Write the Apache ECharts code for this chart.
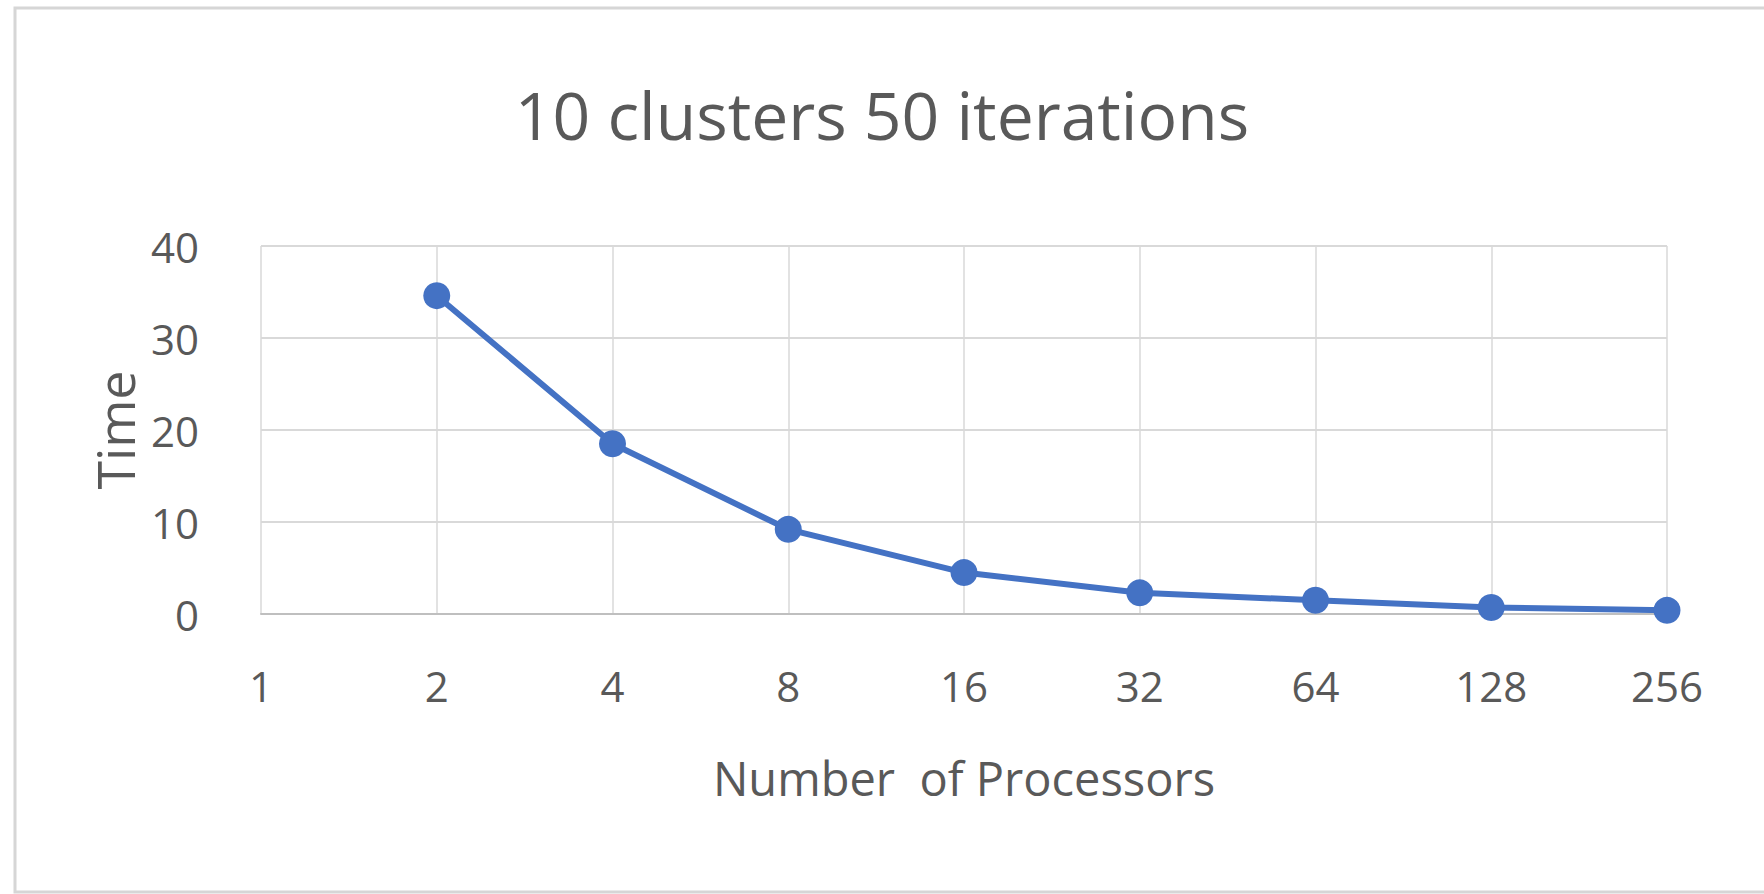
<!DOCTYPE html>
<html>
<head>
<meta charset="utf-8">
<script src="https://cdn.jsdelivr.net/npm/echarts@6/dist/echarts.min.js"></script>
<style>
  html, body { margin: 0; padding: 0; background: #ffffff; }
  #chart { width: 1764px; height: 894px; }
</style>
</head>
<body>
<div id="chart"></div>
<script>
const titleText = '10 clusters 50 iterations';
const processors = ['1', '2', '4', '8', '16', '32', '64', '128', '256'];
const timeValues = [null, 34.6, 18.5, 9.2, 4.5, 2.3, 1.5, 0.7, 0.4];
const yTicks = { min: 0, max: 40, interval: 10 };
const xName = 'Number  of Processors';
const yName = 'Time';

const textColor = '#595959';
const fontFamily = '"Open Sans", "Liberation Sans", sans-serif';

const chart = echarts.init(document.getElementById('chart'), null, { renderer: 'svg' });
chart.setOption({
  backgroundColor: '#ffffff',
  animation: false,
  graphic: [{
    type: 'rect',
    shape: { x: 15, y: 8, width: 1760, height: 884 },
    style: { fill: 'none', stroke: '#d6d6d6', lineWidth: 3 },
    silent: true
  }],
  title: {
    text: titleText,
    left: 'center',
    top: 76,
    textStyle: { color: textColor, fontFamily: fontFamily, fontSize: 66, fontWeight: 'normal' }
  },
  grid: { left: 261, right: 97, top: 246, bottom: 280, containLabel: false },
  xAxis: {
    type: 'category',
    data: processors,
    boundaryGap: false,
    name: xName,
    nameLocation: 'middle',
    nameGap: 140,
    nameTextStyle: { color: textColor, fontFamily: fontFamily, fontSize: 47 },
    axisLine: { show: true, lineStyle: { color: '#bfbfbf', width: 2 } },
    axisTick: { show: false },
    axisLabel: { color: textColor, fontFamily: fontFamily, fontSize: 42, margin: 50 },
    splitLine: { show: true, lineStyle: { color: '#d9d9d9', width: 1.5 } }
  },
  yAxis: {
    type: 'value',
    min: yTicks.min,
    max: yTicks.max,
    interval: yTicks.interval,
    name: yName,
    nameLocation: 'middle',
    nameGap: 114,
    nameTextStyle: { color: textColor, fontFamily: fontFamily, fontSize: 52 },
    axisLine: { show: false },
    axisTick: { show: false },
    axisLabel: { color: textColor, fontFamily: fontFamily, fontSize: 42, margin: 62 },
    splitLine: { show: true, lineStyle: { color: '#d9d9d9', width: 2 } }
  },
  series: [{
    type: 'line',
    data: timeValues,
    connectNulls: false,
    symbol: 'circle',
    symbolSize: 27,
    lineStyle: { color: '#4472C4', width: 6 },
    itemStyle: { color: '#4472C4' }
  }]
});
</script>
</body>
</html>
